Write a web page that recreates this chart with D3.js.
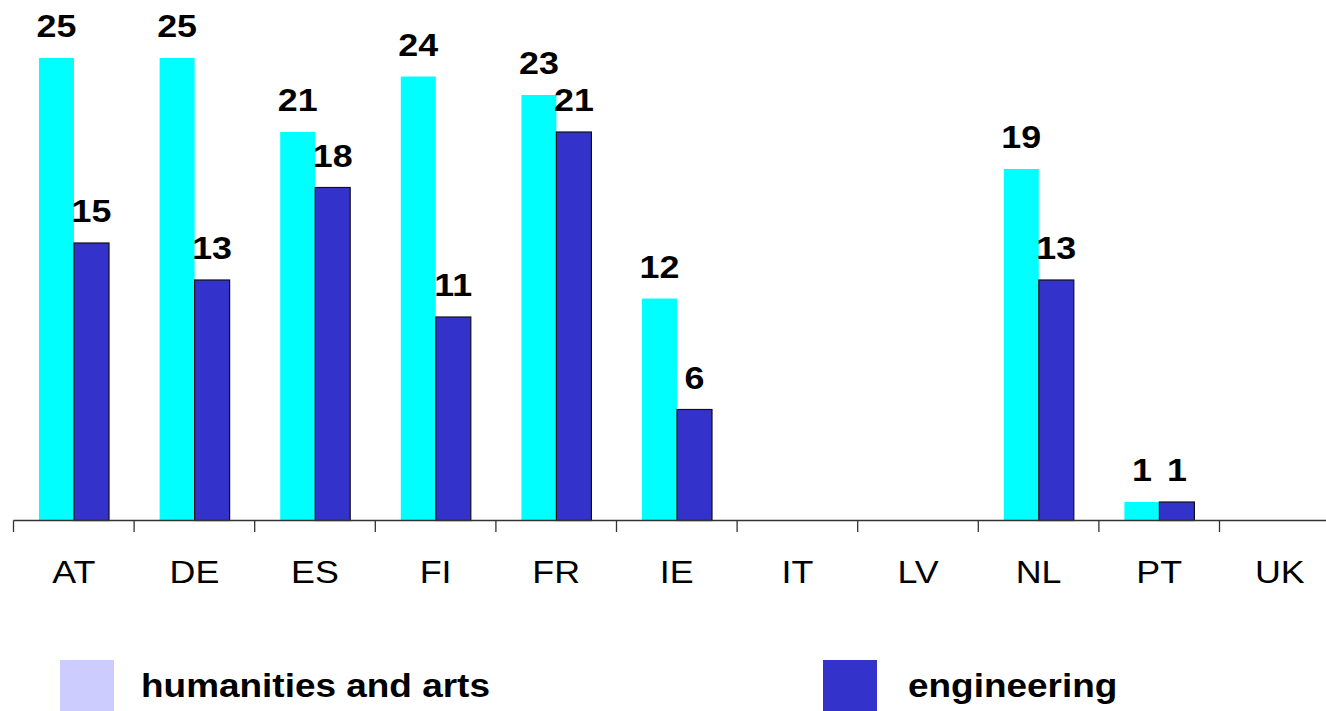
<!DOCTYPE html>
<html><head><meta charset="utf-8">
<script src="https://cdn.jsdelivr.net/npm/d3@7"></script>
<style>
html,body{margin:0;padding:0;background:#fff;overflow:hidden}
svg text{font-family:"Liberation Sans",Arial,sans-serif}
</style></head>
<body><svg id="c" width="1326" height="711"></svg>
<script>
const categories = ["AT","DE","ES","FI","FR","IE","IT","LV","NL","PT","UK"];
const seriesNames = ["humanities and arts","engineering"];
const humanities = [25,25,21,24,23,12,null,null,19,1,null];
const engineering = [15,13,18,11,21,6,null,null,13,1,null];
const barColors = ["#00FFFF","#3333CC"];
const legendColors = ["#CCCCFF","#3333CC"];

const SX = 1.12; // horizontal stretch of text seen in the reference

const svg = d3.select("#c");
const x0 = d3.scaleBand().domain(categories).range([13.5, 13.5 + 11*120.6]).padding(0);
const x1 = d3.scaleBand().domain(seriesNames).range([25.5, 95.5]).padding(0);
const y = d3.scaleLinear().domain([0,25]).range([520.5, 58]);

function txt(parent, x, yy, s, size, bold, anchor) {
  return parent.append("text")
    .attr("transform", `translate(${x},${yy}) scale(${SX},1)`)
    .attr("text-anchor", anchor)
    .attr("font-size", size).attr("font-weight", bold ? "bold" : "normal")
    .attr("fill", "#000").text(s);
}

const data = [humanities, engineering];

// bars
data.forEach((vals, si) => {
  const g = svg.append("g");
  categories.forEach((c, i) => {
    const v = vals[i];
    if (v == null) return;
    const bx = x0(c) + x1(seriesNames[si]);
    g.append("rect")
      .attr("x", bx).attr("y", y(v))
      .attr("width", x1.bandwidth()).attr("height", y(0) - y(v))
      .attr("fill", barColors[si])
      .attr("stroke", si === 1 ? "#111" : "none")
      .attr("stroke-width", si === 1 ? 1.2 : 0);
    txt(g, bx + x1.bandwidth()/2, y(v) - 21, v, 32, true, "middle");
  });
});

// axis
const edges = d3.range(categories.length + 1).map(i => 13.5 + i*x0.step());
svg.append("line").attr("x1", 13.5).attr("x2", 1326).attr("y1", 520.5).attr("y2", 520.5)
  .attr("stroke", "#333").attr("stroke-width", 1.3);
edges.forEach(e => {
  svg.append("line").attr("x1", e).attr("x2", e).attr("y1", 520.5).attr("y2", 532)
    .attr("stroke", "#333").attr("stroke-width", 1.3);
});
categories.forEach(c => {
  txt(svg, x0(c) + x0.bandwidth()/2, 583, c, 32, false, "middle");
});

// legend
const legendX = [60, 823];
const legendTextX = [141, 908];
seriesNames.forEach((s, i) => {
  svg.append("rect").attr("x", legendX[i]).attr("y", 660).attr("width", 54).attr("height", 51)
    .attr("fill", legendColors[i]);
  txt(svg, legendTextX[i], 697, s, 33, true, "start");
});
</script></body></html>
